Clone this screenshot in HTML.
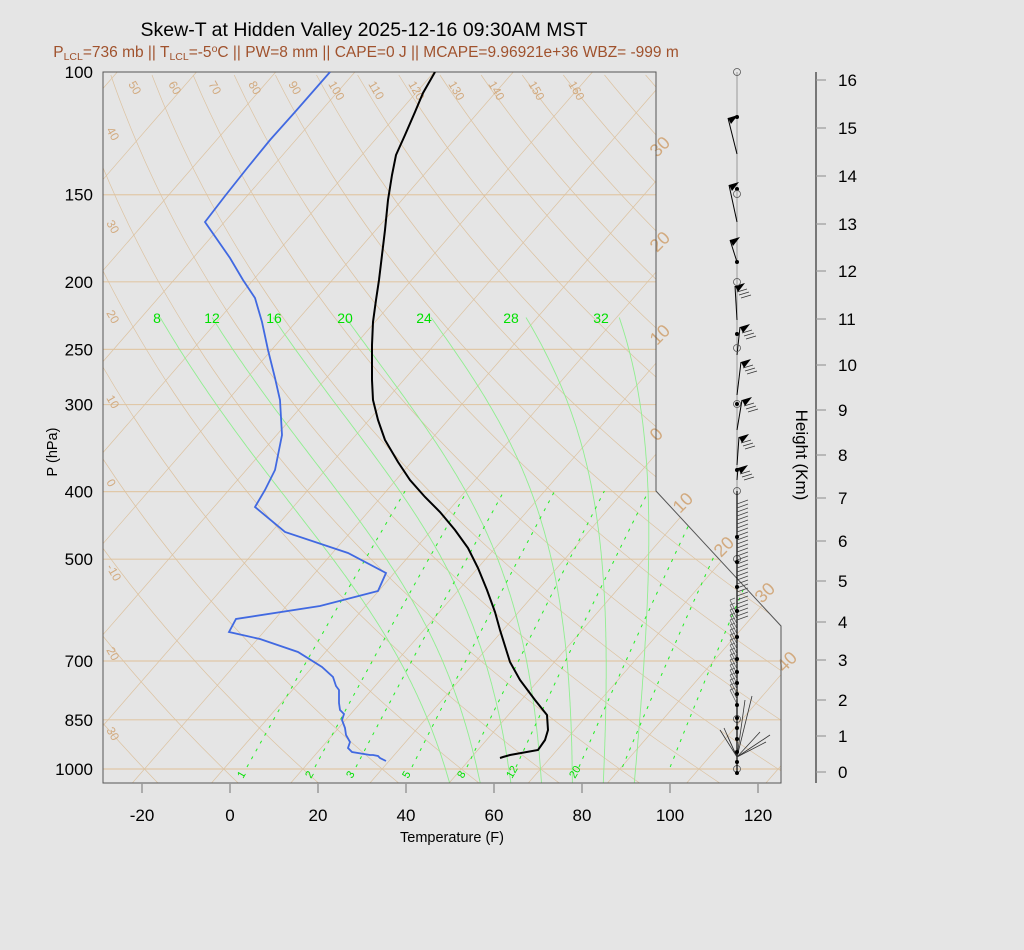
<!DOCTYPE html>
<html><head><meta charset="utf-8">
<style>
html,body{margin:0;padding:0;background:#e5e5e5;}
body{width:1024px;height:950px;position:relative;overflow:hidden;font-family:"Liberation Sans",sans-serif;}
#t1{position:absolute;left:0;width:728px;top:19px;text-align:center;font-size:19.5px;color:#000;}
#t2{position:absolute;left:0;width:732px;top:43px;text-align:center;font-size:15.5px;color:#a0522d;}
#t2 sub{font-size:10.5px;vertical-align:-3px;}
#t2 sup{font-size:10.5px;vertical-align:5px;}
svg{position:absolute;left:0;top:0;}
</style></head><body>
<div id="t1">Skew-T at Hidden Valley 2025-12-16 09:30AM MST</div>
<div id="t2">P<sub>LCL</sub>=736 mb || T<sub>LCL</sub>=-5<sup>o</sup>C || PW=8 mm || CAPE=0 J || MCAPE=9.96921e+36 WBZ= -999 m</div>
<svg id="s" width="1024" height="950" xmlns="http://www.w3.org/2000/svg" font-family="Liberation Sans, sans-serif">
<defs><clipPath id="cp"><polygon points="103,72 656,72 656,491 781,626 781,783 103,783"/></clipPath></defs>
<g id="grid" clip-path="url(#cp)"></g>
<g id="labs"></g>
<polygon points="103,72 656,72 656,491 781,626 781,783 103,783" fill="none" stroke="#555" stroke-width="1"/>
<g id="data" clip-path="url(#cp)"></g>
<g id="wind"></g>
<g id="axes"></g>
</svg>
<script>
var NS="http://www.w3.org/2000/svg";
function el(g,t,a,txt){var e=document.createElementNS(NS,t);for(var k in a)e.setAttribute(k,a[k]);if(txt!==undefined)e.textContent=txt;document.getElementById(g).appendChild(e);return e;}
function yP(p){return 72+697*Math.log10(p/100);}
function pY(y){return 100*Math.pow(10,(y-72)/697);}
function X(Tc,y){return 230+4.4*(Tc*1.8+32)+0.87*(782-y);}
var tan="#dcc2a0";
[150,200,250,300,400,500,700,850,1000].forEach(function(p){var y=yP(p);el("grid","line",{x1:103,x2:781,y1:y,y2:y,stroke:"#e0c8a8","stroke-width":1.2});});
for(var T=-130;T<=60;T+=10){el("grid","line",{x1:X(T,783),y1:783,x2:X(T,72),y2:72,stroke:tan,"stroke-width":0.7});}
for(var th=-60;th<=200;th+=10){var pts=[];for(var y=783;y>=72;y-=6){var p=pY(y);var Tk=(th+273.15)*Math.pow(p/1000,0.2857);pts.push(X(Tk-273.15,y).toFixed(1)+","+y);}
el("grid","polyline",{points:pts.join(" "),fill:"none",stroke:tan,"stroke-width":0.7});}
function es(Tc){return 6.112*Math.exp(17.67*Tc/(Tc+243.5));}
function moist(tw){var Tk=tw+273.15;var p=1000;var up=[];var Rd=287,cp=1004,Lv=2.5e6,eps=0.622;
function dT(Tk,p){var e=es(Tk-273.15);var rs=eps*e/(p-e);return (Rd*Tk+Lv*rs)/(p*(cp+Lv*Lv*rs*eps/(Rd*Tk*Tk)));}
var T2=Tk;for(var q=1000;q<1048;q+=1){T2+=dT(T2,q);}
while(p>225){up.push([Tk,p]);Tk-=dT(Tk,p)*1;p-=1;}
up.push([Tk,p]);
return [[T2,1048]].concat(up);}
[8,12,16,20,24,28,32].forEach(function(tw){var a=moist(tw);var s=[];for(var i=0;i<a.length;i+=4){var y=yP(a[i][1]);s.push(X(a[i][0]-273.15,y).toFixed(1)+","+y.toFixed(1));}
el("grid","polyline",{points:s.join(" "),fill:"none",stroke:"#90ee90","stroke-width":0.9});});
var mw=[[1,247],[2,315],[3,356],[5,412],[8,467],[12,516],[20,579],[28,0],[40,0]];
function tdw(w,p){var e=(w/1000)*p/(0.622+w/1000);var l=Math.log(e/6.112);return 243.5*l/(17.67-l);}
mw.forEach(function(m){var w=m[0];var off=m[1]?m[1]-X(tdw(w,pY(767)),767):0;var s=[];for(var y=767;y>=491;y-=6){s.push((X(tdw(w,pY(y)),y)+off).toFixed(1)+","+y);}
el("grid","polyline",{points:s.join(" "),fill:"none",stroke:"#22ee22","stroke-width":1,"stroke-dasharray":"3,6"});
if(m[1])el("labs","text",{x:m[1]-4,y:779,"font-size":11,fill:"#00e000",transform:"rotate(-60 "+(m[1]-4)+" 779)"},String(w));});
[[8,157],[12,212],[16,274],[20,345],[24,424],[28,511],[32,601]].forEach(function(m){el("labs","text",{x:m[1],y:323,"font-size":14,fill:"#00e000","text-anchor":"middle"},String(m[0]));});
var tl=[50,60,70,80,90,100,110,120,130,140,150,160];
tl.forEach(function(v,i){var x=128+i*40;el("labs","text",{x:x,y:84,"font-size":12,fill:"#d2aa7f",transform:"rotate(60 "+x+" 84)"},String(v));});
[[40,135],[30,228],[20,318],[10,403],[0,487],[-10,572],[-20,655],[-30,735]].forEach(function(m){el("labs","text",{x:106,y:m[1]-5,"font-size":12,fill:"#d2aa7f",transform:"rotate(60 106 "+(m[1]-5)+")"},String(m[0]==-10?-10:Math.abs(m[0])));});
[[-30,657,158],[-20,657,253],[-10,657,346],[0,657,442],[10,680,514],[20,721,558],[30,762,604],[40,784,673]].forEach(function(m){el("labs","text",{x:m[1],y:m[2],"font-size":18,fill:"#d2aa7f",transform:"rotate(-45 "+m[1]+" "+m[2]+")"},String(Math.abs(m[0])));});
var Tp=[[500,758],[503,757],[510,755],[538,750],[545,740],[548,730],[547,715],[535,700],[520,680],[510,662],[500,630],[495,612],[487,590],[478,568],[468,548],[455,530],[440,512],[425,497],[410,480],[398,462],[385,440],[378,420],[373,400],[372,380],[372,345],[373,322],[376,300],[379,280],[382,255],[385,230],[388,200],[392,175],[396,155],[405,135],[415,112],[423,93],[435,72]];
el("data","polyline",{points:Tp.map(function(a){return a.join(",");}).join(" "),fill:"none",stroke:"#000","stroke-width":2});
var Dp=[[386,761],[380,758],[378,756],[373,755],[370,755],[352,752],[348,748],[350,742],[346,735],[345,728],[342,720],[344,714],[340,710],[339,703],[339,690],[336,686],[333,677],[322,667],[298,652],[260,639],[229,632],[236,619],[320,606],[378,591],[386,573],[348,553],[285,532],[255,507],[265,490],[275,470],[282,435],[280,400],[275,378],[268,350],[262,322],[255,298],[243,280],[230,258],[205,222],[225,196],[248,167],[270,140],[295,112],[330,72]];
el("data","polyline",{points:Dp.map(function(a){return a.join(",");}).join(" "),fill:"none",stroke:"#4169e1","stroke-width":1.8});
el("wind","line",{x1:737,y1:72,x2:737,y2:772,stroke:"#999","stroke-width":1});
function flag(x,y,dir){el("wind","polygon",{points:x+","+y+" "+(x+10*dir)+","+(y-3)+" "+(x+3*dir)+","+(y+6),fill:"#000"});}
var up=[[154,728,118,117],[222,729,185,189],[262,730,240,262],[320,735,286,334],[355,740,327,0],[395,741,362,0],[430,742,400,404],[465,739,437,0],[480,738,468,470]];
up.forEach(function(b){el("wind","line",{x1:737,y1:b[0],x2:b[1],y2:b[2],stroke:"#000","stroke-width":1});flag(b[1],b[2],1);
if(b[2]>280){for(var k=1;k<4;k++)el("wind","line",{x1:b[1]+2*k,y1:b[2]+3*k+3,x2:b[1]+2*k+10,y2:b[2]+3*k,stroke:"#333","stroke-width":0.7});}
if(b[3])el("wind","circle",{cx:737,cy:b[3],r:2,fill:"#000"});});
[72,194,282,348,404,491,559,719,769].forEach(function(y){el("wind","circle",{cx:737,cy:y,r:3.5,fill:"none",stroke:"#555","stroke-width":0.8});});
el("wind","line",{x1:737,y1:491,x2:737,y2:772,stroke:"#000","stroke-width":1.2});
for(var y=500;y<620;y+=4){el("wind","line",{x1:737,y1:y+4,x2:748,y2:y,stroke:"#444","stroke-width":0.7});}
for(var y=600;y<695;y+=5){el("wind","line",{x1:737,y1:y+14,x2:730,y2:y,stroke:"#555","stroke-width":0.7});el("wind","line",{x1:730,y1:y,x2:735,y2:y-2,stroke:"#555","stroke-width":0.7});}
[[720,730],[724,728],[760,732],[770,735],[766,742],[752,696],[745,700],[727,735]].forEach(function(b){el("wind","line",{x1:737,y1:757,x2:b[0],y2:b[1],stroke:"#333","stroke-width":0.8});});
[537,562,587,611,637,659,672,683,694,705,718,728,739,752,762,773].forEach(function(y){el("wind","circle",{cx:737,cy:y,r:2,fill:"#000"});});
[100,150,200,250,300,400,500,700,850,1000].forEach(function(p){var y=yP(p);el("axes","text",{x:93,y:y+6,"font-size":17,"text-anchor":"end"},String(p));});
for(var t=-20;t<=120;t+=20){var x=230+4.4*t;el("axes","line",{x1:x,x2:x,y1:783,y2:793,stroke:"#999","stroke-width":1.5});el("axes","text",{x:x,y:821,"font-size":17,"text-anchor":"middle"},String(t));}
el("axes","text",{x:452,y:842,"font-size":14.5,"text-anchor":"middle"},"Temperature (F)");
el("axes","text",{x:57,y:452,"font-size":14.5,"text-anchor":"middle",transform:"rotate(-90 57 452)"},"P (hPa)");
el("axes","line",{x1:816,x2:816,y1:72,y2:783,stroke:"#777","stroke-width":2});
var hy=[772,736,700,660,622,581,541,498,455,410,365,319,271,224,176,128,80];
hy.forEach(function(y,i){el("axes","line",{x1:816,x2:826,y1:y,y2:y,stroke:"#999","stroke-width":1.2});el("axes","text",{x:838,y:y+6,"font-size":17,"text-anchor":"start"},String(i));});
el("axes","text",{x:796,y:455,"font-size":17,"text-anchor":"middle",transform:"rotate(90 796 455)"},"Height (Km)");
</script>
</body></html>
